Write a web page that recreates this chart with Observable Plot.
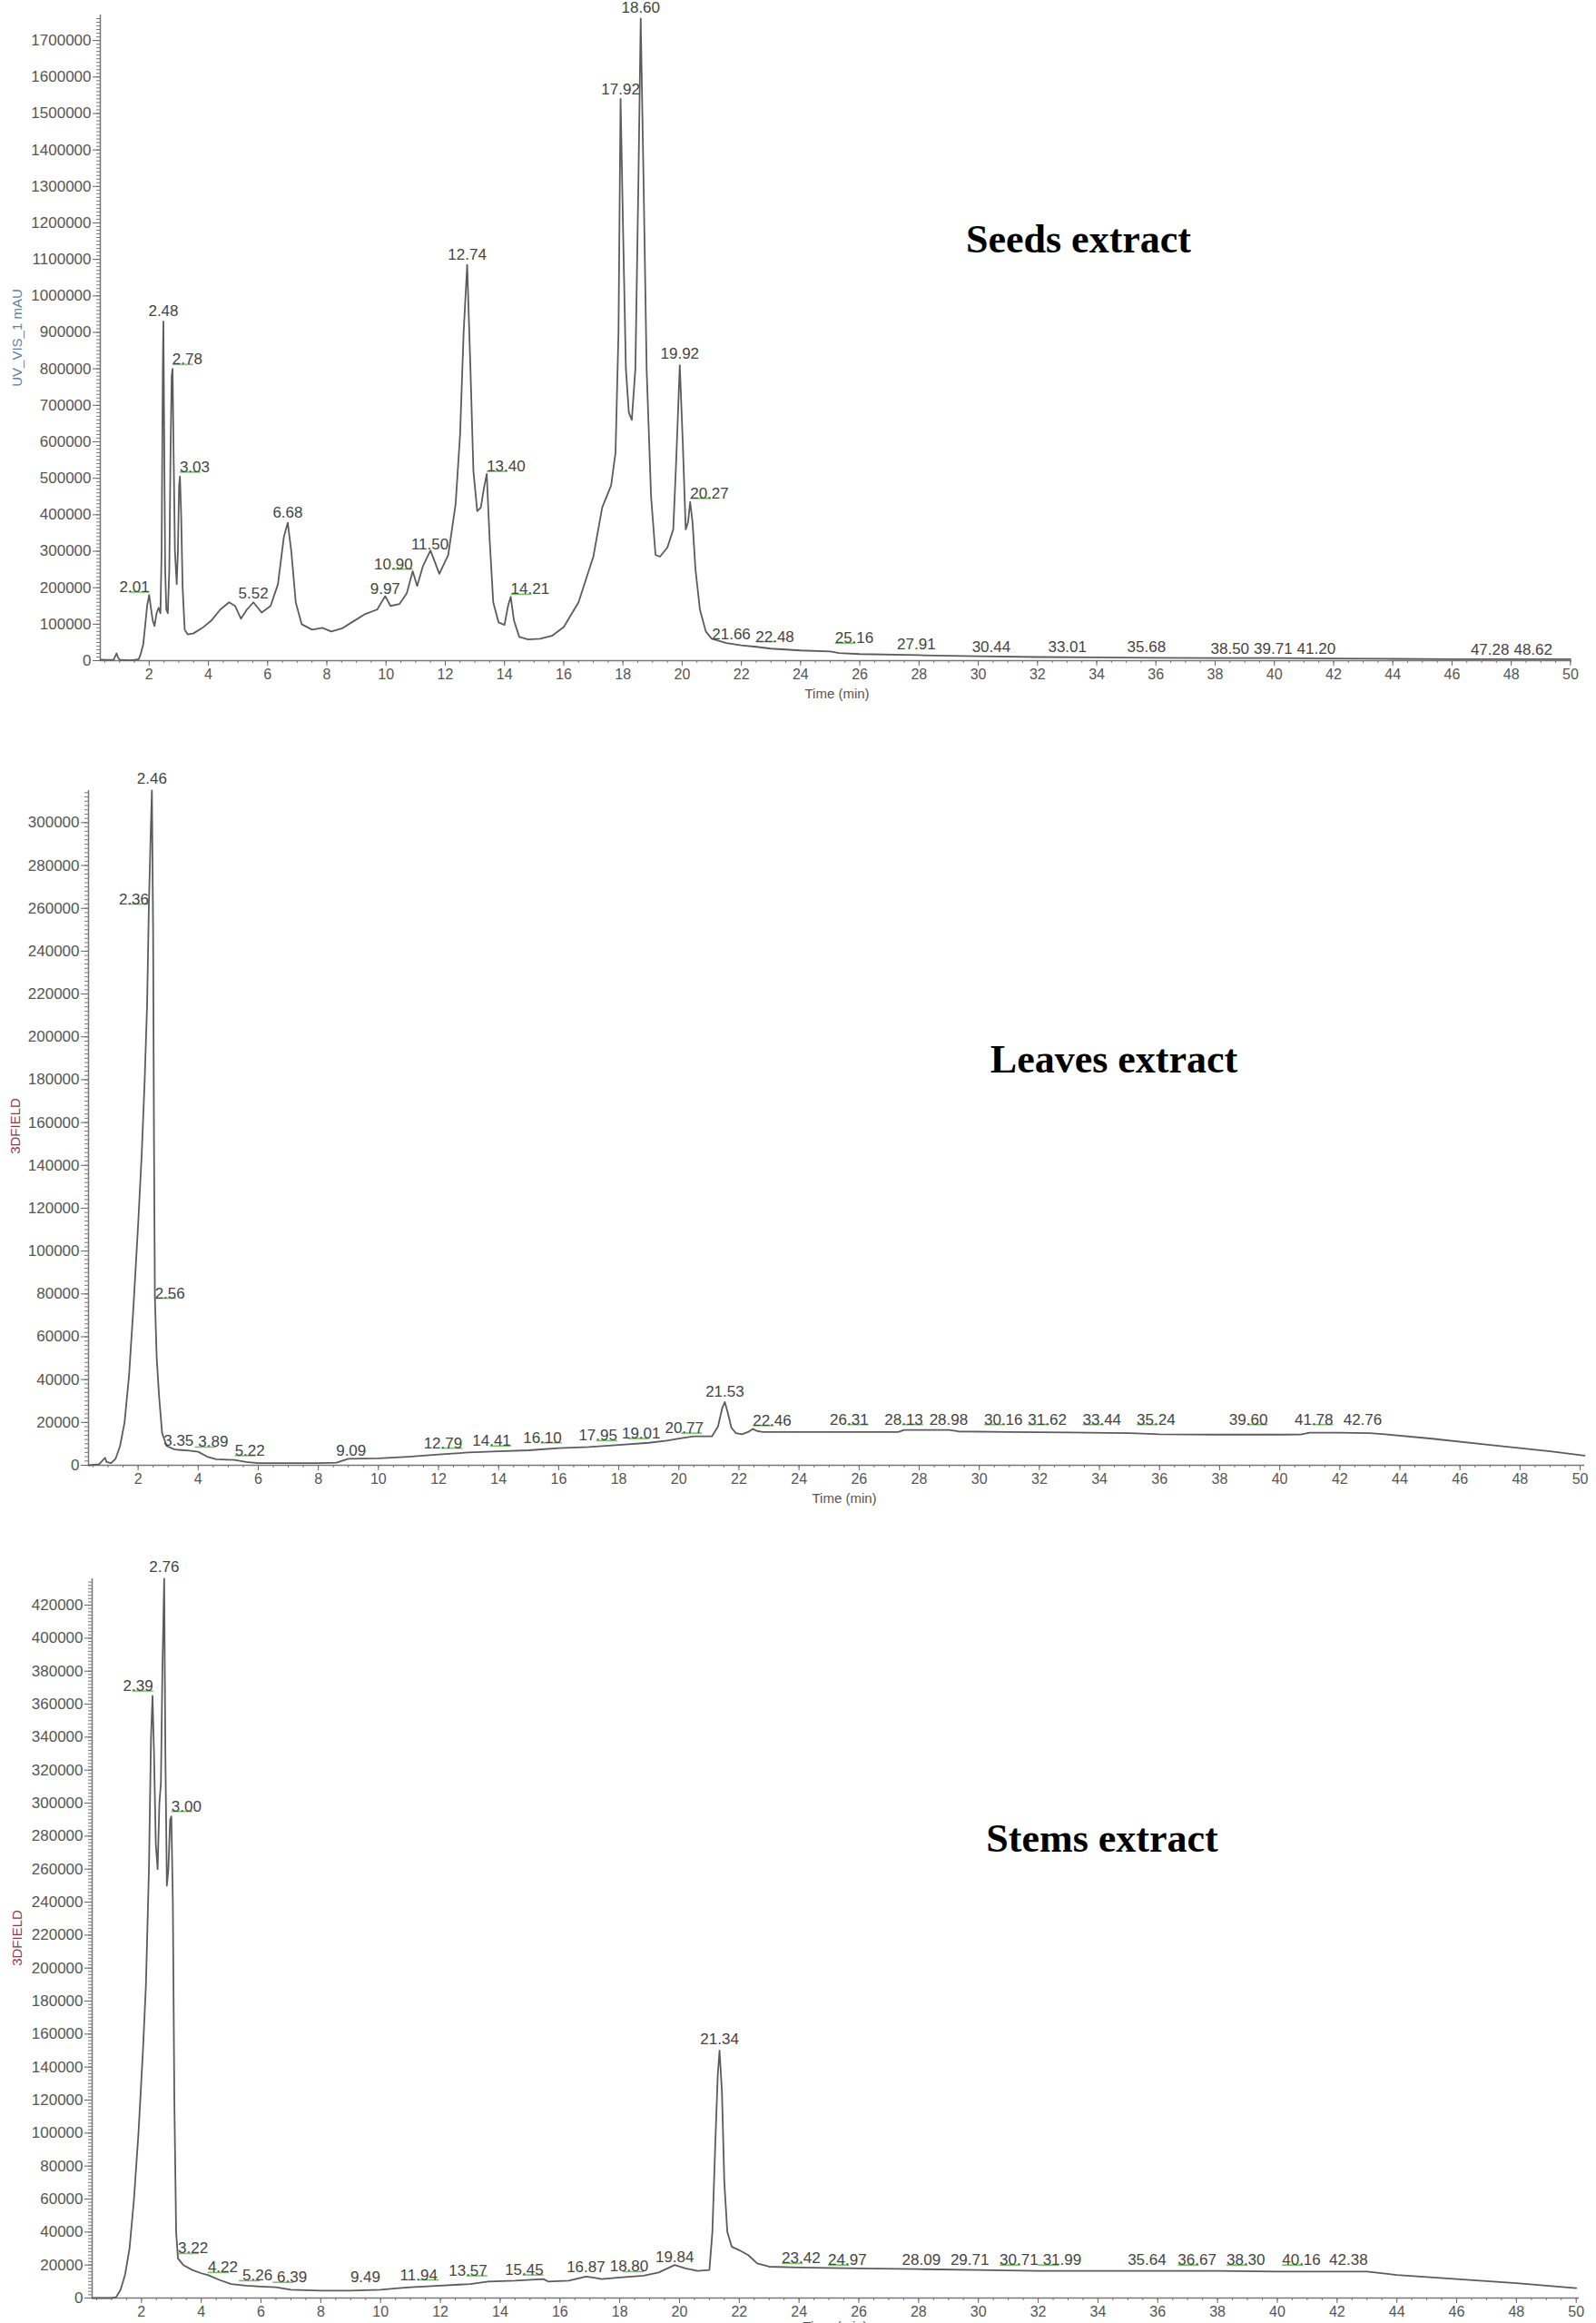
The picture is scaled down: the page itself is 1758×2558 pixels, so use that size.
<!DOCTYPE html>
<html>
<head>
<meta charset="utf-8">
<script src="https://cdn.jsdelivr.net/npm/d3@7"></script>
<script src="https://cdn.jsdelivr.net/npm/@observablehq/plot@0.6"></script>
<style>
  html, body { margin: 0; padding: 0; background: #fff; }
  #page { position: relative; width: 1758px; height: 2558px; overflow: hidden; background: #fff; }
  .panel { position: absolute; left: 0; }
  .title { position: absolute; transform: translate(-50%, -50%); font-family: "Liberation Serif", "Times New Roman", serif; font-weight: bold; font-size: 44px; color: #000; white-space: nowrap; }
  .ylab { position: absolute; transform: translate(-50%, -50%) rotate(-90deg); font-family: "Liberation Sans", Arial, sans-serif; font-size: 15px; white-space: nowrap; }
  .xlab { position: absolute; transform: translate(-50%, -50%); font-family: "Liberation Sans", Arial, sans-serif; font-size: 15px; color: #555; white-space: nowrap; }
</style>
</head>
<body>
<div id="page">
  <div class="panel" id="p1" style="top:0px"></div>
  <div class="panel" id="p2" style="top:800px"></div>
  <div class="panel" id="p3" style="top:1690px"></div>
  <div class="title" style="left:1188px; top:263px">Seeds extract</div>
  <div class="title" style="left:1227px; top:1166px">Leaves extract</div>
  <div class="title" style="left:1214px; top:2024px">Stems extract</div>
  <div class="ylab" style="left:18px; top:372px; color:#5d82a8">UV_VIS_1 mAU</div>
  <div class="ylab" style="left:16px; top:1240px; color:#8a3a4e">3DFIELD</div>
  <div class="ylab" style="left:18px; top:2134px; color:#8a3a4e">3DFIELD</div>
  <div class="xlab" style="left:922px; top:763px">Time (min)</div>
  <div class="xlab" style="left:930px; top:1649px">Time (min)</div>
  <div class="xlab" style="left:920px; top:2561px">Time (min)</div>
</div>
<script>
// ---------------- Seeds extract (UV_VIS_1) ----------------
const seedsTime = [0.35,0.6,0.8,0.9,0.95,1.0,1.1,1.3,1.5,1.65,1.72,1.8,1.87,1.93,2.0,2.05,2.12,2.18,2.25,2.32,2.38,2.42,2.46,2.48,2.5,2.54,2.58,2.63,2.68,2.72,2.76,2.79,2.82,2.87,2.93,2.97,3.01,3.04,3.08,3.13,3.2,3.3,3.5,3.8,4.1,4.4,4.7,4.9,5.1,5.3,5.52,5.8,6.1,6.35,6.55,6.68,6.8,6.95,7.15,7.5,7.85,8.15,8.5,8.9,9.3,9.7,9.97,10.15,10.45,10.7,10.9,11.05,11.25,11.5,11.8,12.1,12.35,12.5,12.62,12.74,12.85,12.95,13.08,13.2,13.3,13.4,13.5,13.62,13.8,14.0,14.12,14.21,14.32,14.5,14.8,15.2,15.6,16.0,16.5,17.0,17.3,17.6,17.75,17.85,17.92,18.0,18.1,18.2,18.3,18.42,18.52,18.6,18.7,18.8,18.95,19.1,19.25,19.5,19.7,19.8,19.92,20.02,20.12,20.2,20.27,20.35,20.45,20.6,20.8,21.0,21.5,22.0,22.5,23.0,24.0,25.0,25.3,26.0,28.0,30.0,32.0,34.0,36.0,38.0,40.0,42.0,44.0,46.0,48.0,50.0];
const seedsSignal = [3000,2000,3000,20000,8000,3000,2000,1000,2000,4000,20000,45000,100000,150000,180000,150000,110000,95000,130000,145000,130000,300000,800000,930000,700000,250000,140000,130000,250000,560000,780000,800000,600000,300000,210000,300000,480000,505000,400000,200000,85000,72000,75000,90000,110000,140000,160000,150000,115000,140000,160000,132000,150000,210000,340000,378000,300000,160000,100000,85000,90000,80000,88000,108000,128000,140000,177000,150000,155000,185000,245000,205000,260000,302000,238000,290000,430000,620000,900000,1085000,800000,520000,410000,420000,470000,512000,330000,160000,105000,98000,150000,175000,110000,65000,58000,60000,68000,92000,160000,285000,420000,480000,570000,900000,1540000,1200000,800000,680000,660000,800000,1300000,1760000,1300000,800000,450000,290000,285000,310000,360000,550000,810000,600000,360000,380000,435000,380000,250000,140000,80000,60000,48000,42000,38000,33000,28000,25000,21000,18000,15000,12000,10000,9000,8000,7000,7000,6000,5000,4000,4000,4000];
const seedsPeakRT = ["2.01","2.48","2.78","3.03","5.52","6.68","9.97","10.90","11.50","12.74","13.40","14.21","17.92","18.60","19.92","20.27","21.66","22.48","25.16","27.91","30.44","33.01","35.68","38.50","39.71","41.20","47.28","48.62"];
const seedsPeakLabelY = [188000,945000,812000,517000,170000,393000,182000,251000,306000,1099000,519000,182000,1552000,1775000,827000,445000,59000,52000,48000,30000,24000,24000,23000,18000,18000,18000,15000,15000];
const seedsPeakAlign = ["end","middle","start","start","middle","middle","middle","end","middle","middle","start","start","middle","middle","middle","start","middle","start","start","middle","middle","middle","middle","middle","middle","middle","middle","middle"];

// ---------------- Leaves extract (3DFIELD) ----------------
const leavesTime = [0.35,0.7,0.9,0.95,1.1,1.25,1.4,1.55,1.7,1.85,2.0,2.12,2.22,2.3,2.36,2.42,2.46,2.5,2.53,2.56,2.62,2.7,2.8,2.95,3.2,3.35,3.7,4.0,4.3,4.6,5.2,5.6,6.0,7.0,8.0,8.6,9.0,10.0,11.0,12.0,13.0,14.0,15.0,16.0,17.0,18.0,19.0,19.6,20.0,20.5,21.1,21.3,21.45,21.53,21.62,21.75,21.9,22.1,22.3,22.46,22.6,22.8,24.0,26.0,27.3,27.5,29.0,29.3,31.0,33.0,35.0,36.0,38.0,40.0,40.7,41.0,42.0,43.0,43.5,45.0,47.0,49.0,50.15];
const leavesSignal = [0,500,3500,1500,1000,3000,9000,20000,42000,75000,112000,145000,180000,215000,262000,295000,315000,250000,150000,78000,50000,32000,15000,9000,7500,7200,6800,6300,4000,2800,2500,1500,1000,1000,1000,1200,3000,3200,4000,5000,6000,6500,7000,8000,8500,9500,10500,11500,12500,13500,13500,18000,27000,29500,25000,17500,15000,14500,15500,17000,16000,15500,15500,15500,15500,16500,16500,15800,15500,15300,15000,14500,14300,14300,14400,15200,15200,15000,14500,12500,9500,6500,4500];
const leavesPeakRT = ["2.46","2.36","2.56","3.35","3.89","5.22","9.09","12.79","14.41","16.10","17.95","19.01","20.77","21.53","22.46","26.31","28.13","28.98","30.16","31.62","33.44","35.24","39.60","41.78","42.76"];
const leavesPeakLabelY = [318000,262000,78000,9000,8500,4500,4500,8000,9000,10500,11500,12500,15000,32000,18500,19000,19000,19000,19000,19000,19000,19000,19000,19000,19000];
const leavesPeakAlign = ["middle","end","start","middle","start","start","middle","end","end","end","end","end","end","middle","start","end","end","middle","start","start","start","start","end","end","middle"];

// ---------------- Stems extract (3DFIELD) ----------------
const stemsTime = [0.35,1.0,1.15,1.3,1.45,1.6,1.75,1.9,2.05,2.15,2.25,2.32,2.37,2.42,2.48,2.54,2.6,2.65,2.7,2.76,2.8,2.85,2.9,2.96,3.0,3.05,3.1,3.16,3.22,3.4,3.7,4.0,4.22,4.6,5.0,5.5,6.0,6.5,7.0,8.0,9.0,10.0,10.6,11.0,12.0,13.0,13.6,14.5,15.45,15.6,16.3,16.87,17.1,17.4,18.0,18.8,19.3,19.84,20.2,20.6,21.0,21.1,21.2,21.28,21.34,21.42,21.5,21.6,21.75,22.0,22.3,22.6,23.0,24.0,26.0,28.0,30.0,32.0,34.0,36.0,38.0,40.0,42.0,43.0,44.0,46.0,48.0,50.0];
const stemsSignal = [0,0,500,5000,14000,30000,60000,100000,150000,190000,260000,340000,365000,330000,275000,260000,300000,312000,380000,436000,330000,250000,260000,290000,292000,240000,120000,40000,24000,20000,17000,15000,14000,11000,8500,7500,7000,6500,5000,4500,4500,5000,6000,6500,7500,8500,10000,10500,11500,10000,10500,13000,12500,11500,12500,13500,15500,20000,18000,16500,17000,40000,95000,135000,150000,125000,70000,40000,31000,29000,26000,21000,19000,18500,18000,17500,17000,16500,16500,16500,16500,16000,16000,16000,14000,11500,9000,6000];
const stemsPeakRT = ["2.76","2.39","3.00","3.22","4.22","5.26","6.39","9.49","11.94","13.57","15.45","16.87","18.80","19.84","21.34","23.42","24.97","28.09","29.71","30.71","31.99","35.64","36.67","38.30","40.16","42.38"];
const stemsPeakLabelY = [440000,368000,295000,27000,15500,10500,9500,9500,11000,13500,14000,15500,16000,21500,154000,21000,20000,20000,20000,20000,20000,20000,20000,20000,20000,20000];
const stemsPeakAlign = ["middle","end","start","start","start","start","start","middle","end","end","end","middle","end","middle","middle","start","start","middle","middle","start","start","middle","start","start","start","middle"];

// ---------------- helpers ----------------
const LABEL_FONT = 17;
function textWidth(s) {
  let w = 0;
  for (const c of s) w += (c === ".") ? 0.278 : 0.556;
  return w * LABEL_FONT;
}

function buildPanel(cfg) {
  const width = 1758;
  const xs = d3.scaleLinear(cfg.xDomain, [cfg.ml, width - cfg.mr]);
  const ys = d3.scaleLinear([0, cfg.yMax], [cfg.height - cfg.mb, cfg.mt]);
  const series = cfg.time.map((t, i) => ({t, v: cfg.signal[i]}));
  const labels = cfg.rt.map((s, i) => ({t: +s, text: s, y: cfg.labelY[i], a: cfg.align[i]}));

  // greedy collision avoidance: push overlapping labels to the right
  labels.forEach(d => {
    const w = textWidth(d.text);
    const px = xs(d.t);
    d.w = w;
    d.left = d.a === "start" ? px : d.a === "end" ? px - w : px - w / 2;
    d.py = ys(d.y);
  });
  const order = labels.slice().sort((a, b) => a.left - b.left);
  const placed = [];
  const gap = 5;
  for (const d of order) {
    let moved = true, guard = 0;
    while (moved && guard++ < 50) {
      moved = false;
      for (const p of placed) {
        if (Math.abs(d.py - p.py) < LABEL_FONT + 1 && d.left < p.left + p.w + gap && d.left + d.w > p.left - gap) {
          d.left = p.left + p.w + gap;
          moved = true;
        }
      }
    }
    placed.push(d);
    d.xl = xs.invert(d.left);
  }

  const greens = labels.filter(d => d.a !== "middle").map(d => ({
    x1: d.a === "start" ? d.t : d.t - 0.7,
    x2: d.a === "start" ? d.t + 0.7 : d.t,
    y: d.y
  }));
  const fmt = d => String(d);
  const xStart = cfg.xDomain[0];
  return Plot.plot({
    width,
    height: cfg.height,
    marginLeft: cfg.ml, marginRight: cfg.mr, marginTop: cfg.mt, marginBottom: cfg.mb,
    style: {fontFamily: "'Liberation Sans', Arial, sans-serif", fontSize: "16px", color: "#555", background: "transparent", overflow: "visible"},
    x: {domain: cfg.xDomain},
    y: {domain: [0, cfg.yMax]},
    marks: [
      Plot.axisY({ticks: d3.range(0, cfg.yMax, cfg.yStep / 10), tickSize: 4, tickFormat: () => "", label: null, stroke: "#777"}),
      Plot.axisY({ticks: d3.range(0, cfg.yTop + 1, cfg.yStep), tickSize: 8, tickPadding: 2, tickFormat: fmt, label: null, fontSize: 17, fill: "#555", stroke: "#666"}),
      Plot.axisX({ticks: d3.range(0.5, 50.01, 0.5), tickSize: 3, tickFormat: () => "", label: null, stroke: "#777"}),
      Plot.axisX({ticks: d3.range(2, 50.01, 2), tickSize: 6, tickPadding: 3, tickFormat: fmt, label: null, fontSize: 16, fill: "#555", stroke: "#666"}),
      Plot.ruleX([xStart], {stroke: "#777", strokeWidth: 1.5}),
      Plot.ruleY([0], {stroke: "#777", strokeWidth: 1.5}),
      Plot.link(greens, {x1: "x1", x2: "x2", y1: "y", y2: "y", stroke: "#74c465", strokeWidth: 1.6}),
      Plot.line(series, {x: "t", y: "v", stroke: "#5c5c5c", strokeWidth: 1.8, curve: "linear"}),
      Plot.text(labels, {x: "xl", y: "y", text: "text", textAnchor: "start", lineAnchor: "bottom", fontSize: LABEL_FONT, fill: "#444"})
    ]
  });
}

document.getElementById("p1").appendChild(buildPanel({
  time: seedsTime, signal: seedsSignal, rt: seedsPeakRT, labelY: seedsPeakLabelY, align: seedsPeakAlign,
  height: 790, ml: 110, mr: 27, mt: 16, mb: 63,
  xDomain: [0.35, 50.05], yMax: 1770000, yTop: 1700000, yStep: 100000
}));
document.getElementById("p2").appendChild(buildPanel({
  time: leavesTime, signal: leavesSignal, rt: leavesPeakRT, labelY: leavesPeakLabelY, align: leavesPeakAlign,
  height: 860, ml: 97, mr: 13, mt: 70, mb: 47,
  xDomain: [0.35, 50.15], yMax: 315000, yTop: 300000, yStep: 20000
}));
document.getElementById("p3").appendChild(buildPanel({
  time: stemsTime, signal: stemsSignal, rt: stemsPeakRT, labelY: stemsPeakLabelY, align: stemsPeakAlign,
  height: 868, ml: 101, mr: 19, mt: 48, mb: 28,
  xDomain: [0.35, 50.1], yMax: 436000, yTop: 420000, yStep: 20000
}));
</script>
</body>
</html>
